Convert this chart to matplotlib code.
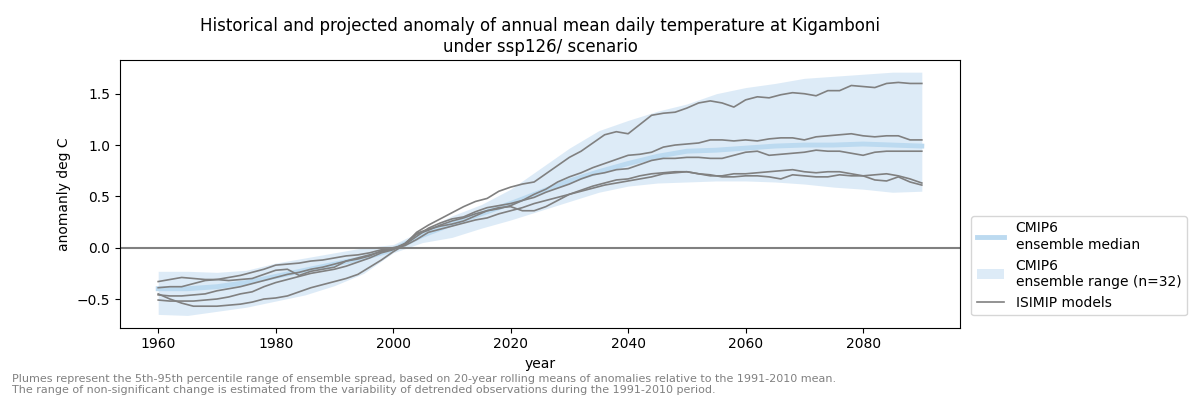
import numpy as np
import matplotlib.pyplot as plt

# CMIP6 ensemble (every 5 years)
years = np.arange(1960, 2091, 5)
cmip_median = [-0.40, -0.40, -0.38, -0.34, -0.28, -0.22, -0.16, -0.10, -0.02, 0.12,
               0.23, 0.33, 0.43, 0.54, 0.65, 0.74, 0.82, 0.89, 0.94, 0.95,
               0.97, 0.99, 1.00, 1.00, 1.01, 1.00, 0.99]
cmip_low = [-0.65, -0.66, -0.62, -0.58, -0.52, -0.46, -0.37, -0.25, -0.05, 0.05,
            0.10, 0.19, 0.27, 0.36, 0.45, 0.54, 0.60, 0.63, 0.64, 0.65,
            0.65, 0.64, 0.62, 0.59, 0.57, 0.54, 0.55]
cmip_high = [-0.23, -0.23, -0.24, -0.22, -0.15, -0.10, -0.05, 0.00, 0.03, 0.17,
             0.31, 0.42, 0.57, 0.77, 0.97, 1.14, 1.24, 1.33, 1.40, 1.50,
             1.56, 1.60, 1.65, 1.67, 1.69, 1.71, 1.71]

# ISIMIP models (every 2 years)
years_isimip = np.arange(1960, 2091, 2)
isimip_a = [-0.45, -0.50, -0.54, -0.57, -0.57, -0.57, -0.56, -0.55, -0.53, -0.50,
            -0.49, -0.47, -0.43, -0.39, -0.36, -0.33, -0.30, -0.26, -0.19, -0.12,
            -0.04, 0.03, 0.15, 0.22, 0.28, 0.34, 0.40, 0.45, 0.48, 0.55,
            0.59, 0.62, 0.64, 0.72, 0.80, 0.88, 0.94, 1.02, 1.10, 1.13,
            1.11, 1.20, 1.29, 1.31, 1.32, 1.36, 1.41, 1.43, 1.41, 1.37,
            1.44, 1.47, 1.46, 1.49, 1.51, 1.50, 1.48, 1.53, 1.53, 1.58,
            1.57, 1.56, 1.60, 1.61, 1.60, 1.60]
isimip_b = [-0.51, -0.52, -0.52, -0.52, -0.51, -0.50, -0.48, -0.45, -0.43, -0.38,
            -0.34, -0.31, -0.28, -0.25, -0.23, -0.21, -0.18, -0.14, -0.10, -0.05,
            -0.02, 0.04, 0.14, 0.18, 0.21, 0.23, 0.26, 0.31, 0.36, 0.38,
            0.41, 0.46, 0.52, 0.57, 0.64, 0.69, 0.73, 0.78, 0.82, 0.86,
            0.90, 0.91, 0.93, 0.98, 1.00, 1.01, 1.02, 1.05, 1.05, 1.04,
            1.05, 1.04, 1.06, 1.07, 1.07, 1.05, 1.08, 1.09, 1.10, 1.11,
            1.09, 1.08, 1.09, 1.09, 1.05, 1.05]
isimip_c = [-0.46, -0.47, -0.47, -0.46, -0.45, -0.42, -0.40, -0.38, -0.35, -0.32,
            -0.29, -0.26, -0.24, -0.21, -0.19, -0.16, -0.13, -0.10, -0.07, -0.04,
            -0.01, 0.03, 0.11, 0.19, 0.24, 0.28, 0.30, 0.35, 0.39, 0.41,
            0.43, 0.46, 0.49, 0.54, 0.58, 0.62, 0.67, 0.71, 0.73, 0.76,
            0.77, 0.81, 0.85, 0.87, 0.87, 0.88, 0.88, 0.87, 0.87, 0.90,
            0.93, 0.94, 0.90, 0.91, 0.92, 0.93, 0.95, 0.94, 0.94, 0.92,
            0.90, 0.93, 0.94, 0.94, 0.94, 0.94]
isimip_d = [-0.39, -0.38, -0.38, -0.35, -0.32, -0.31, -0.32, -0.31, -0.30, -0.26,
            -0.22, -0.21, -0.27, -0.23, -0.21, -0.19, -0.13, -0.11, -0.08, -0.03,
            -0.01, 0.04, 0.13, 0.17, 0.22, 0.26, 0.29, 0.33, 0.36, 0.39,
            0.40, 0.36, 0.36, 0.40, 0.46, 0.52, 0.56, 0.60, 0.63, 0.66,
            0.67, 0.70, 0.72, 0.73, 0.74, 0.74, 0.72, 0.70, 0.70, 0.72,
            0.72, 0.73, 0.74, 0.75, 0.76, 0.74, 0.73, 0.74, 0.74, 0.72,
            0.70, 0.71, 0.72, 0.70, 0.67, 0.63]
isimip_e = [-0.33, -0.31, -0.29, -0.30, -0.31, -0.31, -0.29, -0.27, -0.24, -0.21,
            -0.17, -0.16, -0.15, -0.13, -0.12, -0.10, -0.08, -0.07, -0.05, -0.02,
            0.00, 0.02, 0.08, 0.15, 0.18, 0.21, 0.24, 0.27, 0.29, 0.33,
            0.36, 0.39, 0.43, 0.46, 0.49, 0.52, 0.55, 0.58, 0.61, 0.63,
            0.65, 0.67, 0.69, 0.72, 0.73, 0.74, 0.72, 0.71, 0.69, 0.69,
            0.70, 0.70, 0.69, 0.67, 0.71, 0.70, 0.69, 0.69, 0.71, 0.70,
            0.70, 0.66, 0.65, 0.69, 0.64, 0.61]
isimip_models = [isimip_a, isimip_b, isimip_c, isimip_d, isimip_e]

fig = plt.figure(figsize=(12, 4), dpi=100)
ax = fig.add_axes([0.1, 0.181, 0.7, 0.669])

ax.fill_between(years, cmip_low, cmip_high, color='#d8e8f6', alpha=0.85,
                linewidth=0, label='CMIP6\nensemble range (n=32)')
ax.plot(years, cmip_median, color='#bcdaf0', linewidth=3.5, label='CMIP6\nensemble median')
for i, model in enumerate(isimip_models):
    ax.plot(years_isimip, model, color='gray', linewidth=1.2,
            label='ISIMIP models' if i == 0 else None)
ax.axhline(0, color='gray', linewidth=1.5)

ax.set_title('Historical and projected anomaly of annual mean daily temperature at Kigamboni\n'
             'under ssp126/ scenario', fontsize=12)
ax.set_xlabel('year')
ax.set_ylabel('anomanly deg C')
ax.set_yticks([-0.5, 0.0, 0.5, 1.0, 1.5])

handles, labels = ax.get_legend_handles_labels()
order = [1, 0, 2]
ax.legend([handles[i] for i in order], [labels[i] for i in order],
          loc='lower left', bbox_to_anchor=(1.005, 0.02), fontsize=10)

fig.text(0.01, 0.065, 'Plumes represent the 5th-95th percentile range of ensemble spread, based on '
         '20-year rolling means of anomalies relative to the 1991-2010 mean.\n'
         'The range of non-significant change is estimated from the variability of detrended '
         'observations during the 1991-2010 period.',
         fontsize=8, color='gray', va='top', linespacing=1.1)

plt.savefig('out.png', dpi=100)
